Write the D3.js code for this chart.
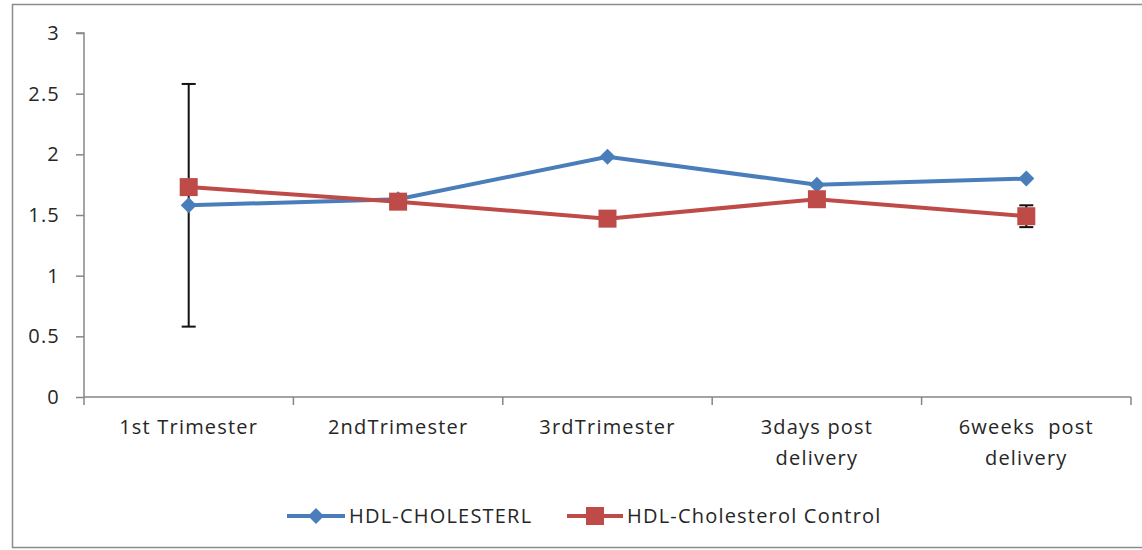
<!DOCTYPE html>
<html><head><meta charset="utf-8">
<script src="https://cdn.jsdelivr.net/npm/d3@7"></script>
<style>body{margin:0;background:#fff}text{font-family:"Open Sans",sans-serif;fill:#262626;letter-spacing:1.2px}</style>
</head><body><svg id="c" width="1142" height="550"></svg>
<script>
const categories = [["1st Trimester"],["2ndTrimester"],["3rdTrimester"],["3days post","delivery"],["6weeks  post","delivery"]];
const hdl = [1.58, 1.63, 1.98, 1.75, 1.80];
const control = [1.73, 1.61, 1.47, 1.63, 1.49];
const hdlErr = [1.0, null, null, null, null];
const controlErr = [null, null, null, null, 0.09];
const yTicks = [0, 0.5, 1, 1.5, 2, 2.5, 3];
const seriesNames = ["HDL-CHOLESTERL", "HDL-Cholesterol Control"];

(function(){
const FS = 20;
const svg = d3.select("#c");
svg.append("rect").attr("x",12.5).attr("y",4.5).attr("width",1140).attr("height",543)
  .attr("fill","#fff").attr("stroke","#8c8c8c").attr("stroke-width",1.5);

const pl=84, pr=1131, pt=33, pb=397;
const x = d3.scaleBand().domain(d3.range(categories.length)).range([pl,pr]);
const y = d3.scaleLinear().domain([0,3]).range([pb,pt]);
const cx = i => x(i)+x.bandwidth()/2;

// y axis
const ya = svg.append("g").attr("transform",`translate(${pl},0)`)
  .call(d3.axisLeft(y).tickValues(yTicks).tickSize(8).tickPadding(16).tickFormat(d3.format("")));
ya.selectAll("path,line").attr("stroke","#868686").attr("stroke-width",1.5);
ya.select(".domain").attr("d",`M-8,${pt}H0V${pb}`);
ya.selectAll("text").attr("font-size",FS).attr("fill","#262626").style("font-family","Open Sans");

// x axis
const xa = svg.append("g").attr("transform",`translate(0,${pb})`);
xa.append("line").attr("x1",pl).attr("x2",pr).attr("stroke","#868686").attr("stroke-width",1.5);
d3.range(categories.length+1).forEach(i=>{
  const xx = i<categories.length ? x(i) : pr;
  xa.append("line").attr("x1",xx).attr("x2",xx).attr("y1",0).attr("y2",8).attr("stroke","#868686").attr("stroke-width",1.5);
});
categories.forEach((lines,i)=>{
  const t = xa.append("text").attr("text-anchor","middle").attr("font-size",FS).attr("y",37);
  lines.forEach((l,j)=>t.append("tspan").attr("x",cx(i)).attr("dy",j?31:0).attr("xml:space","preserve").text(l));
});

const line = d3.line().x((d,i)=>cx(i)).y(d=>y(d));
const blue="#4a7ebb", red="#be4b48";

function errBars(vals, errs){
  errs.forEach((e,i)=>{
    if(e==null) return;
    const g = svg.append("g").attr("stroke","#111").attr("stroke-width",2);
    g.append("line").attr("x1",cx(i)).attr("x2",cx(i)).attr("y1",y(vals[i]-e)).attr("y2",y(vals[i]+e));
    [vals[i]-e, vals[i]+e].forEach(v=>g.append("line").attr("x1",cx(i)-7).attr("x2",cx(i)+7).attr("y1",y(v)).attr("y2",y(v)));
  });
}

svg.append("path").attr("d",line(hdl)).attr("fill","none").attr("stroke",blue).attr("stroke-width",4);
errBars(hdl, hdlErr);
svg.append("path").attr("d",line(control)).attr("fill","none").attr("stroke",red).attr("stroke-width",4);
errBars(control, controlErr);

const diamond = (g,xx,yy)=>g.append("path").attr("d",`M${xx},${yy-8}L${xx+8},${yy}L${xx},${yy+8}L${xx-8},${yy}Z`).attr("fill",blue);
const square = (g,xx,yy)=>g.append("rect").attr("x",xx-9).attr("y",yy-9).attr("width",18).attr("height",18).attr("fill",red);

hdl.forEach((v,i)=>diamond(svg,cx(i),y(v)));
control.forEach((v,i)=>square(svg,cx(i),y(v)));

// legend
const lg = svg.append("g");
const ly = 516;
lg.append("line").attr("x1",287).attr("x2",345).attr("y1",ly).attr("y2",ly).attr("stroke",blue).attr("stroke-width",4);
diamond(lg,316,ly);
lg.append("text").attr("x",349).attr("y",ly+7).attr("font-size",FS).text(seriesNames[0]);
lg.append("line").attr("x1",567).attr("x2",623).attr("y1",ly).attr("y2",ly).attr("stroke",red).attr("stroke-width",4);
square(lg,595,ly);
lg.append("text").attr("x",627).attr("y",ly+7).attr("font-size",FS).text(seriesNames[1]);
})();
</script></body></html>
